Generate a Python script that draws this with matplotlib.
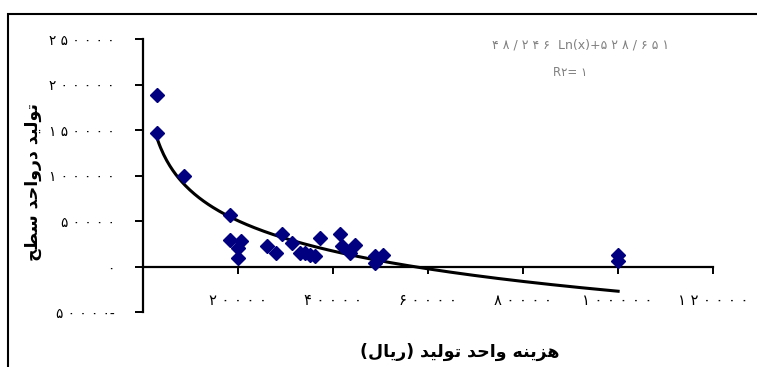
import numpy as np
import matplotlib
matplotlib.use('Agg')
import matplotlib.pyplot as plt
from matplotlib.patches import Rectangle
from matplotlib.ticker import FuncFormatter

# unit production cost (rial) vs production per unit area
cost = [3150, 3150, 8800, 18400, 18400, 20700, 20000, 20000, 26100, 28200,
        29300, 31500, 33100, 34200, 35200, 36300, 37300, 41600, 41900, 43700,
        44700, 48900, 50700, 48900, 100100, 100100]
yield_area = [189000, 147000, 100000, 57000, 29000, 28000, 21000, 10000, 23000, 15500,
              36000, 26500, 15500, 15500, 13500, 12000, 32000, 36500, 22500, 15500,
              24500, 12000, 13500, 4500, 13500, 6500]

# fitted trend: y = -48246 ln(x) + 528651
coef_a = -48246
coef_b = 528651

x_ticks = [0, 20000, 40000, 60000, 80000, 100000, 120000]
y_ticks = [-50000, 0, 50000, 100000, 150000, 200000, 250000]

x_title = 'هزینه واحد تولید (ریال)'
y_title = 'تولید درواحد سطح'
eq_left = '۴۸/۲۴۶'
eq_right = '۵۲۸/۶۵۱'
r2_text = 'R۲= ۱'

# minimal arabic shaping: isolated, final, initial, medial
FORMS = {
    'ا': ('\uFE8D', '\uFE8E', None, None),
    'ت': ('\uFE95', '\uFE96', '\uFE97', '\uFE98'),
    'ح': ('\uFEA1', '\uFEA2', '\uFEA3', '\uFEA4'),
    'د': ('\uFEA9', '\uFEAA', None, None),
    'ر': ('\uFEAD', '\uFEAE', None, None),
    'ز': ('\uFEAF', '\uFEB0', None, None),
    'س': ('\uFEB1', '\uFEB2', '\uFEB3', '\uFEB4'),
    'ط': ('\uFEC1', '\uFEC2', '\uFEC3', '\uFEC4'),
    'ل': ('\uFEDD', '\uFEDE', '\uFEDF', '\uFEE0'),
    'ن': ('\uFEE5', '\uFEE6', '\uFEE7', '\uFEE8'),
    'ه': ('\uFEE9', '\uFEEA', '\uFEEB', '\uFEEC'),
    'و': ('\uFEED', '\uFEEE', None, None),
    'ی': ('\uFBFC', '\uFBFD', '\uFEF3', '\uFEF4'),
}
MIRROR = {'(': ')', ')': '('}


def shape(text):
    out = []
    for i, c in enumerate(text):
        if c not in FORMS:
            out.append(MIRROR.get(c, c))
            continue
        prev = text[i - 1] if i > 0 else ''
        nxt = text[i + 1] if i + 1 < len(text) else ''
        join_prev = prev in FORMS and FORMS[prev][2] is not None
        join_next = FORMS[c][2] is not None and nxt in FORMS
        iso, fin, ini, med = FORMS[c]
        if join_prev and join_next:
            out.append(med)
        elif join_prev:
            out.append(fin)
        elif join_next:
            out.append(ini)
        else:
            out.append(iso)
    return ''.join(reversed(out))


FA_DIGITS = str.maketrans('0123456789', '۰۱۲۳۴۵۶۷۸۹')


def spaced(s):
    # the source renders persian digits with wide spacing
    return ' '.join(s)


def fa_num(v, pos=None):
    s = spaced(str(abs(int(v))).translate(FA_DIGITS))
    return s + '-' if v < 0 else s


plt.rcParams['font.family'] = ['DejaVu Sans']

fig = plt.figure(figsize=(7.57, 3.67), dpi=100)
ax = fig.add_axes([142.5 / 757, 1 - 312.3 / 367, 570.2 / 757, 273.0 / 367])

xs = np.linspace(min(cost), max(cost), 300)
ax.plot(xs, coef_a * np.log(xs) + coef_b, color='black', lw=2.2, zorder=2)
ax.plot(cost, yield_area, linestyle='none', marker='D', markersize=7.3,
        color='#000080', zorder=3)

ax.set_xlim(0, 120000)
ax.set_ylim(-50000, 250000)
ax.set_xticks(x_ticks)
ax.set_yticks(y_ticks)
ax.xaxis.set_major_formatter(FuncFormatter(fa_num))
ax.yaxis.set_major_formatter(FuncFormatter(fa_num))

ax.spines['top'].set_visible(False)
ax.spines['right'].set_visible(False)
ax.spines['bottom'].set_position(('data', 0))
ax.spines['left'].set_linewidth(1.6)
ax.spines['bottom'].set_linewidth(1.6)
ax.tick_params(axis='x', direction='out', length=5, width=1.4, pad=14, labelsize=10.5)
ax.tick_params(axis='y', direction='out', length=6, width=1.4, pad=14, labelsize=9.8)

fig.text(460 / 757, 1 - 352 / 367, shape(x_title), ha='center', va='center',
         fontsize=12.5, fontweight='bold')
fig.text(33 / 757, 1 - 182 / 367, shape(y_title), ha='center', va='center',
         rotation=90, fontsize=12.5, fontweight='bold')
fig.text(581 / 757, 1 - 45 / 367,
         spaced(eq_left) + '  Ln(x)+' + spaced(eq_right),
         ha='center', va='center', fontsize=9, color='#808080')
fig.text(570 / 757, 1 - 73 / 367, r2_text, ha='center', va='center',
         fontsize=8.5, color='#808080')

fig.patches.append(Rectangle((8 / 757, -0.2), 1.2, 1.2 - 14 / 367,
                             transform=fig.transFigure, fill=False,
                             edgecolor='black', lw=1.5))

fig.savefig('out.png', dpi=100)
